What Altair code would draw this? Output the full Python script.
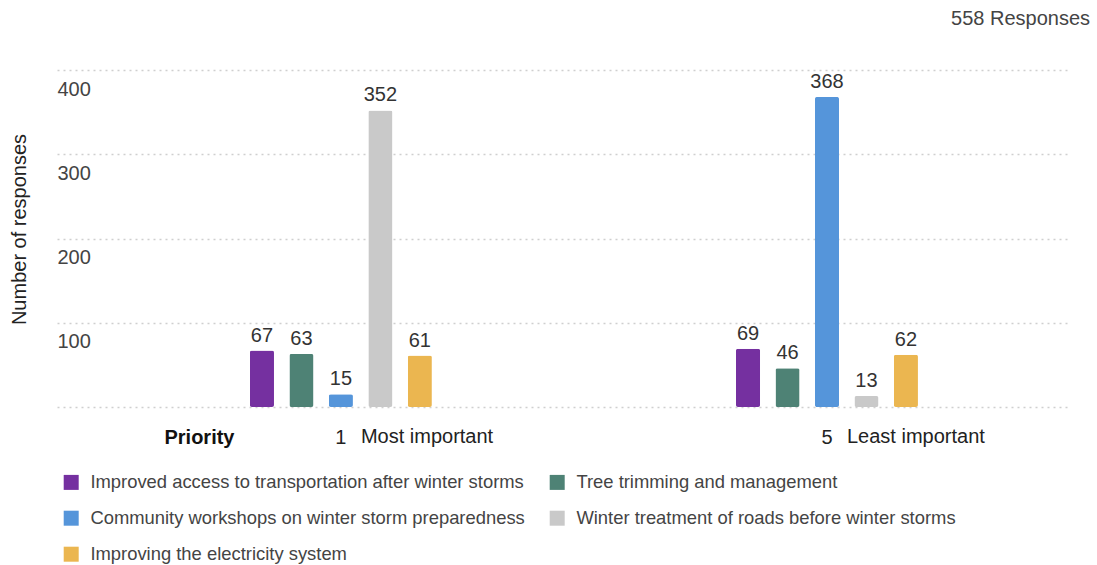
import altair as alt
import pandas as pd

# Survey results: how many respondents ranked each option at each priority level
priorities = ["1", "5"]
priority_names = ["Most important", "Least important"]
options = [
    "Improved access to transportation after winter storms",
    "Tree trimming and management",
    "Community workshops on winter storm preparedness",
    "Winter treatment of roads before winter storms",
    "Improving the electricity system",
]
counts_most = [67, 63, 15, 352, 61]
counts_least = [69, 46, 368, 13, 62]
palette = ["#7530A0", "#4E8275", "#5595DA", "#C9C9C9", "#EBB650"]
total_responses = 558
y_ticks = [0, 100, 200, 300, 400]

# Legend fills column by column; this order reads row by row in two columns
legend_order = [options[0], options[2], options[4], options[1], options[3]]

rows = []
for p, counts in zip(priorities, [counts_most, counts_least]):
    for o, c in zip(options, counts):
        rows.append({"priority": p, "option": o, "count": c})
df = pd.DataFrame(rows)
names_df = pd.DataFrame({"priority": priorities, "name": priority_names})

FONT = "Liberation Sans"

x_enc = alt.X(
    "priority:N",
    sort=priorities,
    scale=alt.Scale(domain=priorities, paddingInner=0.594, paddingOuter=0.339, align=0.562),
    axis=alt.Axis(
        title="Priority", titleX=177, titleY=36, titleAlign="right",
        titleBaseline="alphabetic", titleFontWeight="bold", titleFontSize=20,
        titleColor="#111", titleFont=FONT,
        labelAngle=0, labelFontSize=20, labelColor="#222", labelFont=FONT,
        labelBaseline="alphabetic", labelPadding=36,
        ticks=False, tickSize=0, domain=False, grid=False,
    ),
)
x_off = alt.XOffset("option:N", sort=options,
                    scale=alt.Scale(domain=options, paddingInner=0.39, paddingOuter=0.195))
y_enc = alt.Y(
    "count:Q",
    scale=alt.Scale(domain=[0, 400], nice=False),
    axis=alt.Axis(
        title="Number of responses", titleX=-38, titleY=159, titleAngle=270,
        titleAlign="center", titleBaseline="middle", titleFontSize=20,
        titleFontWeight="normal", titleColor="#222", titleFont=FONT,
        values=y_ticks, labelExpr="datum.value === 0 ? '' : datum.label",
        labelAlign="left", labelBaseline="top", labelPadding=0, labelOffset=9,
        labelFontSize=20, labelColor="#444", labelFont=FONT,
        ticks=False, tickSize=0, domain=False,
        grid=True, gridDash=[2, 4], gridColor="#cfcfcf", gridWidth=1.5,
    ),
)

bars = alt.Chart(df).mark_bar(cornerRadius=2).encode(
    x=x_enc,
    xOffset=x_off,
    y=y_enc,
    color=alt.Color(
        "option:N",
        sort=options,
        scale=alt.Scale(domain=options, range=palette),
        legend=alt.Legend(
            title=None, orient="none", legendX=5, legendY=403, columns=2,
            values=legend_order,
            symbolType="square", symbolSize=225, symbolStrokeWidth=0,
            labelFontSize=18.4, labelColor="#444", labelFont=FONT,
            labelOffset=10, columnPadding=23, rowPadding=17, labelLimit=0,
            padding=0,
        ),
    ),
)

value_labels = alt.Chart(df).mark_text(
    baseline="alphabetic", dy=-9, fontSize=20, color="#333", font=FONT
).encode(x=x_enc, xOffset=x_off, y=y_enc, text="count:Q")

priority_labels = alt.Chart(names_df).mark_text(
    align="left", baseline="alphabetic", dx=20, fontSize=20, color="#222", font=FONT
).encode(x=x_enc, y=alt.value(373), text="name:N")

chart = (
    alt.layer(bars, value_labels, priority_labels)
    .properties(
        width=1013,
        height=337,
        autosize=alt.AutoSizeParams(type="none"),
        padding={"left": 57, "top": 70, "right": 27, "bottom": 158},
        background="white",
        title=alt.TitleParams(
            f"{total_responses} Responses", anchor="end", frame="group",
            fontSize=20, fontWeight="normal", color="#444", font=FONT,
            baseline="alphabetic", offset=25, dx=20,
        ),
    )
    .configure_view(stroke=None)
)

chart.save("out.html", embed_options={"renderer": "svg", "actions": False})
